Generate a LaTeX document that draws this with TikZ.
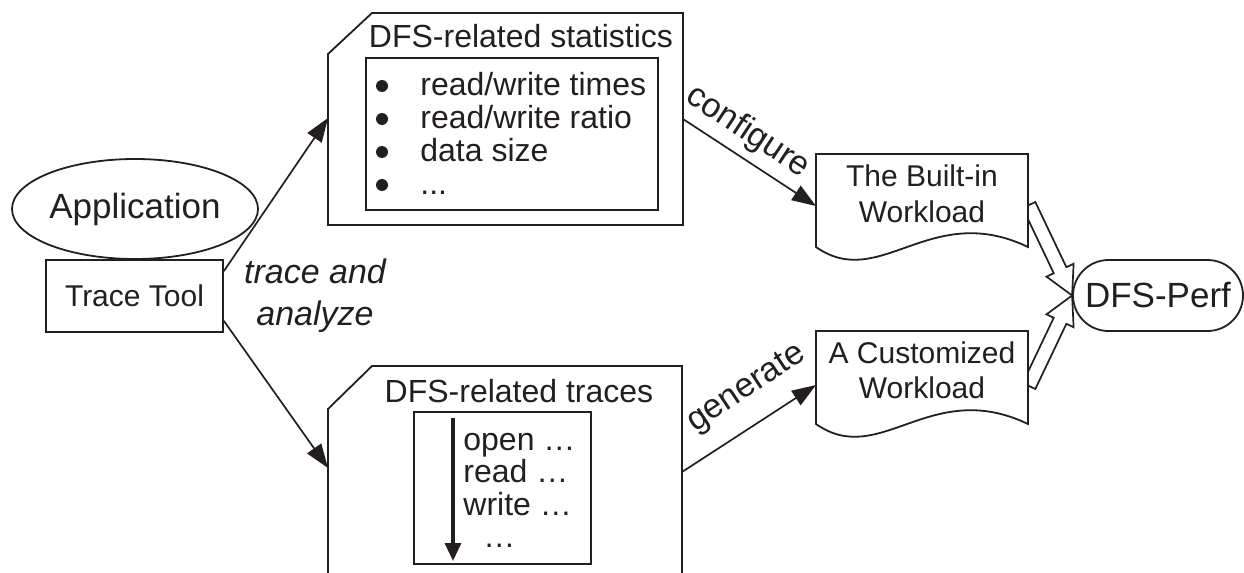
\documentclass[tikz,border=0pt]{standalone}
\usepackage{fontspec}
\setmainfont{Liberation Sans}
\usetikzlibrary{calc,arrows.meta,shapes.geometric,shapes.misc}
\definecolor{ink}{HTML}{231F20}

\tikzset{
  outline/.style={draw=ink, line width=0.9pt, line join=miter},
  conn/.style={draw=ink, line width=0.85pt, -{Triangle[length=12pt,width=8.5pt]}},
  fat/.style={draw=ink, fill=white, line width=0.85pt, line join=miter},
  doc/.style={draw=ink, fill=white, line width=0.9pt, line join=miter},
  txt/.style={text=ink, inner sep=0pt, font=\fontsize{16}{19}\selectfont},
  txtsm/.style={text=ink, inner sep=0pt, font=\fontsize{15}{18}\selectfont},
  txtlg/.style={text=ink, inner sep=0pt, font=\fontsize{17.5}{21}\selectfont},
  verb/.style={text=ink, inner sep=0pt, font=\fontsize{17}{20}\selectfont},
  note/.style={text=ink, inner sep=0pt, font=\fontsize{17}{20}\selectfont\itshape},
  dot/.style={circle, fill=ink, inner sep=0pt, minimum size=6pt},
}

% hollow block arrow from #1 (tail centre) to #2 (tip)
\newcommand\fatarrow[2]{%
  \coordinate (fa-base) at ($(#2)!14pt!(#1)$);
  \draw[fat] ($(#1)!3.5pt!90:(#2)$) -- ($(fa-base)!3.5pt!90:(#2)$)
    -- ($(fa-base)!7.5pt!90:(#2)$) -- (#2)
    -- ($(fa-base)!7.5pt!-90:(#2)$) -- ($(fa-base)!3.5pt!-90:(#2)$)
    -- ($(#1)!3.5pt!-90:(#2)$) -- cycle;}

\begin{document}
\begin{tikzpicture}[x=0.5pt,y=-0.5pt]
\useasboundingbox (0,0) rectangle (1244,573);
\clip (0,0) rectangle (1244,573);

% application and tracing tool
\node[outline, ellipse, minimum width=123pt, minimum height=50pt, txtlg] (app) at (135,209) {Application};
\node[outline, rectangle, minimum width=88.5pt, minimum height=36pt, txtsm] (tool) at (134.5,296) {Trace Tool};
\coordinate (tool-a) at ($(tool.north east)+(0,12)$);
\coordinate (tool-b) at ($(tool.south east)+(0,-12)$);

% statistics card
\draw[outline] (328,54) -- (372,13) -- (683,13) -- (683,225) -- (328,225) -- cycle;
\coordinate (stats-in) at (328,118);
\coordinate (stats-out) at (683,119);
\node[txt, anchor=base] (stats-title) at (521,47) {DFS-related statistics};
\node[outline, rectangle, minimum width=146pt, minimum height=76pt] (stats-box) at (512,134) {};
\node[dot] (b1) at (382,86) {};
\node[dot] (b2) at (382,119) {};
\node[dot] (b3) at (382,152) {};
\node[dot] (b4) at (382,185) {};
\node[txt, anchor=base west] (s1) at (420,95) {read/write times};
\node[txt, anchor=base west] (s2) at (420,128) {read/write ratio};
\node[txt, anchor=base west] (s3) at (420,161) {data size};
\node[txt, anchor=base west] (s4) at (420,194) {...};

% traces card
\draw[outline] (328,600) -- (328,409) -- (372,366) -- (682,366) -- (682,600);
\coordinate (traces-in) at (328,468);
\coordinate (traces-out) at (682,472);
\node[txt, anchor=base] (traces-title) at (519,402) {DFS-related traces};
\node[outline, rectangle, minimum width=88.5pt, minimum height=76pt] (traces-box) at (502.5,488) {};
\coordinate (flow-top) at (453,418);
\coordinate (flow-end) at (453,561);
\draw[draw=ink, line width=1.6pt, -{Triangle[length=9pt,width=8pt]}] (flow-top) -- (flow-end);
\node[txt, anchor=base west] (t1) at (463,450) {open …};
\node[txt, anchor=base west] (t2) at (463,482) {read …};
\node[txt, anchor=base west] (t3) at (463,515) {write …};
\node[txt, anchor=base west] (t4) at (483,547) {…};

% benchmark
\node[outline, rounded rectangle, minimum width=85pt, minimum height=35.5pt, txtlg] (perf) at (1158,295.5) {DFS-Perf};

% hollow arrows into the benchmark
\coordinate (bi-tail) at (1029,205);
\coordinate (cw-tail) at (1029,386);
\fatarrow{bi-tail}{perf.west}
\fatarrow{cw-tail}{perf.west}

% workload documents
\draw[doc] (816,154) -- (1028,154) -- (1028,247) .. controls (930,200) and (880,292) .. (816,247) -- cycle;
\coordinate (bi-in) at (816,206);
\node[txtsm, anchor=base] (bi1) at (922,186) {The Built-in};
\node[txtsm, anchor=base] (bi2) at (922,222) {Workload};

\draw[doc] (816,331) -- (1028,331) -- (1028,424) .. controls (930,377) and (880,469) .. (816,424) -- cycle;
\coordinate (cw-in) at (816,385);
\node[txtsm, anchor=base] (cw1) at (922,363) {A Customized};
\node[txtsm, anchor=base] (cw2) at (922,398) {Workload};

% connectors
\draw[conn] (tool-a) -- (stats-in);
\draw[conn] (tool-b) -- (traces-in);
\draw[conn] (stats-out) -- (bi-in);
\draw[conn] (traces-out) -- (cw-in);

% connector labels
\node[note, anchor=base] (lbl-trace) at (315,283) {trace and};
\node[note, anchor=base] (lbl-analyze) at (315,325) {analyze};
\node[verb, rotate=-33.4] (lbl-config) at (748,132) {configure};
\node[verb, rotate=33.4] (lbl-gen) at (747,389) {generate};
\end{tikzpicture}
\end{document}
